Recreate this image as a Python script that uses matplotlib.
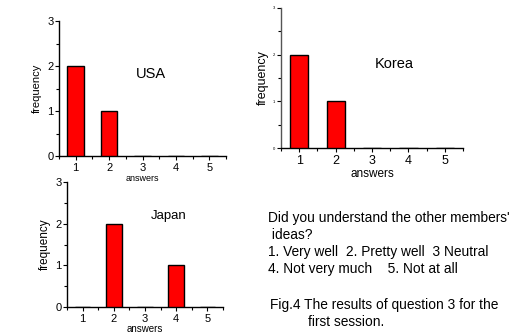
import matplotlib
matplotlib.use("Agg")
import matplotlib.pyplot as plt
from matplotlib.ticker import MultipleLocator

answers = [1, 2, 3, 4, 5]
usa = [2, 1, 0, 0, 0]
korea = [2, 1, 0, 0, 0]
japan = [0, 2, 0, 1, 0]
yticks = [0, 1, 2, 3]

plt.rcParams['font.family'] = ['Liberation Sans', 'DejaVu Sans']

fig = plt.figure(figsize=(5.18, 3.36), dpi=100)

def panel(rect, vals, title, title_xy, tsize, ysize, xsize, xlab_size, ylab_size, ylab_pad, xlab_pad, spine_col='black'):
    ax = fig.add_axes(rect)
    ax.bar(answers, vals, width=0.5, color='#ff0000', edgecolor='black', linewidth=1.0, zorder=3)
    ax.set_xlim(0.5, 5.5)
    ax.set_ylim(0, 3)
    ax.set_xticks(answers)
    ax.set_yticks(yticks)
    ax.xaxis.set_minor_locator(MultipleLocator(0.5))
    ax.yaxis.set_minor_locator(MultipleLocator(0.5))
    for s in ['top', 'right']:
        ax.spines[s].set_visible(False)
    ax.spines['left'].set_color(spine_col)
    ax.spines['left'].set_linewidth(1.0)
    ax.spines['bottom'].set_linewidth(1.0)
    ax.tick_params(axis='y', which='major', length=3, width=0.8, labelsize=ysize, pad=1)
    ax.tick_params(axis='x', which='major', length=3, width=0.8, labelsize=xsize, pad=2)
    ax.tick_params(which='minor', length=2, width=0.8)
    ax.set_ylabel('frequency', fontsize=ylab_size, labelpad=ylab_pad)
    ax.set_xlabel('answers', fontsize=xlab_size, labelpad=xlab_pad)
    ax.text(title_xy[0], title_xy[1], title, fontsize=tsize, ha='center', va='center', transform=ax.transAxes)
    return ax

panel([0.1139, 0.5357, 0.3224, 0.4018], usa, 'USA', (0.55, 0.61), 10.5, 8, 8, 6.5, 8, 4, 1)
panel([0.5425, 0.5595, 0.3514, 0.4167], korea, 'Korea', (0.62, 0.6), 10.5, 3, 9, 8.5, 9, 3, 1, spine_col='#555555')
panel([0.1293, 0.0863, 0.3012, 0.372], japan, 'Japan', (0.65, 0.73), 9.5, 8, 8, 7, 8.5, 3, 0)

lines = ["Did you understand the other members'",
         " ideas?",
         "1. Very well  2. Pretty well  3 Neutral",
         "4. Not very much    5. Not at all"]
y0 = 218
for i, ln in enumerate(lines):
    fig.text(268 / 518, 1 - (y0 + 17 * i) / 336, ln, fontsize=9.9, ha='left', va='center')
fig.text(270 / 518, 1 - 305 / 336, "Fig.4 The results of question 3 for the", fontsize=9.9, ha='left', va='center')
fig.text(308 / 518, 1 - 322 / 336, "first session.", fontsize=9.9, ha='left', va='center')

fig.savefig('out.png', dpi=100)
